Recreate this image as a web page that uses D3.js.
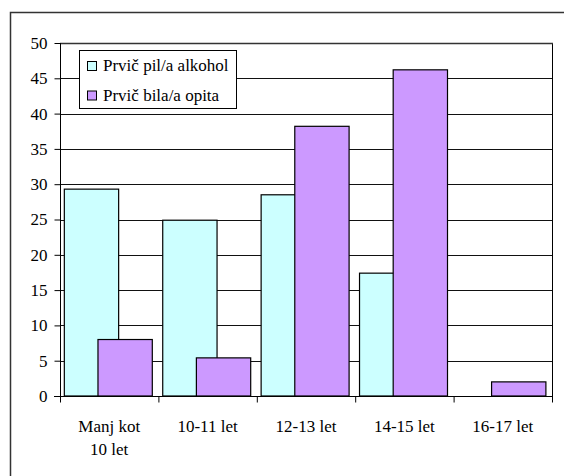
<!DOCTYPE html>
<html>
<head>
<meta charset="utf-8">
<script src="https://cdn.jsdelivr.net/npm/d3@7"></script>
<style>
  body { margin: 0; background: #fff; }
  svg text { font-family: "Liberation Serif", "DejaVu Serif", serif; fill: #000; }
</style>
</head>
<body>
<div id="vis"></div>
<script>
// data
var categories = [["Manj kot", "10 let"], ["10-11 let"], ["12-13 let"], ["14-15 let"], ["16-17 let"]];
var seriesNames = ["Prvič pil/a alkohol", "Prvič bila/a opita"];
var alkohol = [29.3, 24.9, 28.5, 17.4, 0];
var opita = [8.0, 5.4, 38.2, 46.2, 2.0];
var yTicks = [0, 5, 10, 15, 20, 25, 30, 35, 40, 45, 50];
const BAR_COLOR = ["#ccffff", "#cc99ff"];
const FONT = "'Liberation Serif', 'DejaVu Serif', serif";
const FONT_SIZE = 17;

var width = 564, height = 476;
var plotLeft = 60, plotRight = 552, plotTop = 43, plotBottom = 396;

var svg = d3.select("#vis").append("svg")
  .attr("width", width)
  .attr("height", height)
  .style("font-family", FONT);

// outer frame (runs off the bottom/right)
svg.append("rect")
  .attr("x", 10.5).attr("y", 12.5)
  .attr("width", 600).attr("height", 600)
  .attr("fill", "none")
  .attr("stroke", "#333")
  .attr("stroke-width", 1.5);

var xScale = d3.scaleBand().domain(d3.range(categories.length)).range([plotLeft, plotRight]).padding(0);
var yScale = d3.scaleLinear().domain([0, 50]).range([plotBottom, plotTop]);
var bw = xScale.bandwidth();

// gridlines
svg.append("g").selectAll("line")
  .data(yTicks.filter(function (d) { return d > 0; }))
  .enter().append("line")
  .attr("x1", plotLeft).attr("x2", plotRight)
  .attr("y1", function (d) { return Math.round(yScale(d)) + 0.5; })
  .attr("y2", function (d) { return Math.round(yScale(d)) + 0.5; })
  .attr("stroke", "#111")
  .attr("stroke-width", 1);

// plot frame top / right
svg.append("line")
  .attr("x1", plotRight + 0.5).attr("x2", plotRight + 0.5)
  .attr("y1", plotTop).attr("y2", plotBottom)
  .attr("stroke", "#000");
svg.append("line")
  .attr("x1", plotLeft).attr("x2", plotRight + 1)
  .attr("y1", plotTop + 0.5).attr("y2", plotTop + 0.5)
  .attr("stroke", "#333").attr("stroke-width", 1.5);

// bars
var barW = bw * 0.552;
var series = [alkohol, opita];
var offsets = [bw * 0.044, bw * 0.386];
series.forEach(function (vals, s) {
  svg.append("g").selectAll("rect")
    .data(vals)
    .enter().append("rect")
    .filter(function (d) { return d > 0; })
    .attr("x", function (d, i) { return xScale(i) + offsets[s]; })
    .attr("y", function (d) { return yScale(d); })
    .attr("width", barW)
    .attr("height", function (d) { return yScale(0) - yScale(d); })
    .attr("fill", BAR_COLOR[s])
    .attr("stroke", "#000")
    .attr("stroke-width", 1.2);
});

// y axis
var yAxis = svg.append("g")
  .attr("transform", "translate(" + (plotLeft + 0.5) + ",0)")
  .call(d3.axisLeft(yScale).tickValues(yTicks).tickSize(6).tickPadding(7))
  .attr("font-family", null);
yAxis.select(".domain").attr("stroke", "#000").attr("d", "M0," + plotTop + "V" + plotBottom);
yAxis.selectAll("line").attr("stroke", "#000");
yAxis.selectAll("text")
  .style("font-family", FONT)
  .attr("font-size", FONT_SIZE)
  .attr("fill", "#000");

// x axis
var xAxis = svg.append("g")
  .attr("transform", "translate(0," + (plotBottom + 0.5) + ")");
xAxis.append("line")
  .attr("x1", plotLeft - 6).attr("x2", plotRight + 1)
  .attr("stroke", "#000");
xAxis.selectAll(".tick")
  .data(d3.range(categories.length + 1))
  .enter().append("line")
  .attr("x1", function (d) { return plotLeft + d * bw + 0.5; })
  .attr("x2", function (d) { return plotLeft + d * bw + 0.5; })
  .attr("y1", 0).attr("y2", 6)
  .attr("stroke", "#000");
var labels = xAxis.selectAll(".lab")
  .data(categories)
  .enter().append("text")
  .attr("text-anchor", "middle")
  .attr("font-size", FONT_SIZE)
  .style("font-family", FONT)
  .attr("y", 35);
labels.selectAll("tspan")
  .data(function (d, i) { return d.map(function (t) { return { t: t, i: i }; }); })
  .enter().append("tspan")
  .attr("x", function (d) { return xScale(d.i) + bw / 2; })
  .attr("dy", function (d, j) { return j === 0 ? 0 : 23; })
  .text(function (d) { return d.t; });

// legend
var legend = svg.append("g");
legend.append("rect")
  .attr("x", 79.5).attr("y", 50.5)
  .attr("width", 157).attr("height", 58)
  .attr("fill", "#fff")
  .attr("stroke", "#000");
seriesNames.forEach(function (name, s) {
  legend.append("rect")
    .attr("x", 87.5).attr("y", 61.5 + s * 29.5)
    .attr("width", 9).attr("height", 9)
    .attr("fill", BAR_COLOR[s])
    .attr("stroke", "#000");
  legend.append("text")
    .attr("x", 103).attr("y", 71 + s * 29.5)
    .attr("font-size", FONT_SIZE)
    .style("font-family", FONT)
    .text(name);
});
</script>
</body>
</html>
